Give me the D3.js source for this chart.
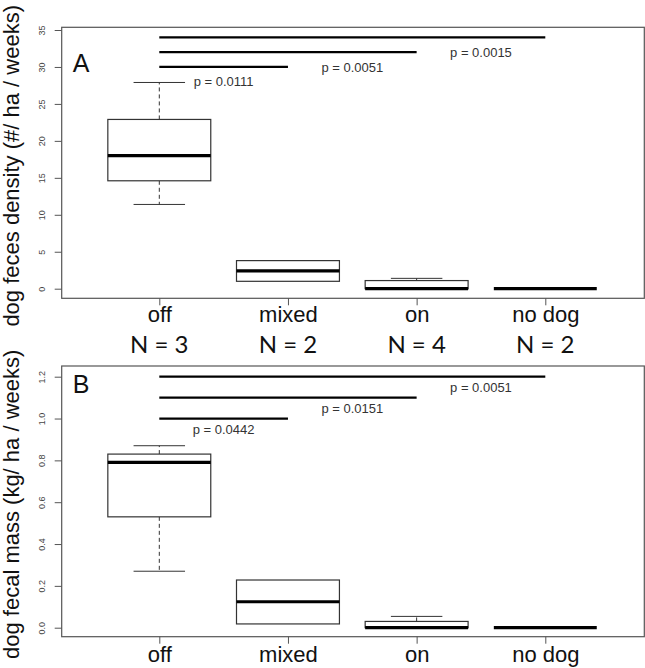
<!DOCTYPE html>
<html>
<head>
<meta charset="utf-8">
<script src="https://cdn.jsdelivr.net/npm/d3@7"></script>
<style>
  html, body { margin: 0; padding: 0; background: #fff; }
  svg { display: block; }
</style>
</head>
<body>
<svg id="chart" width="645" height="668"></svg>
<script>
// ---------- data ----------
const categories = ["off", "mixed", "on", "no dog"];
const sampleSizes = ["N = 3", "N = 2", "N = 4", "N = 2"];

// Panel A: dog feces density (#/ha/weeks)
const densMin = [11.4, 1.0, 0, 0];
const densQ1  = [14.6, 1.0, 0, 0];
const densMed = [18.0, 2.4, 0, 0];
const densQ3  = [22.9, 3.8, 1.1, 0];
const densMax = [27.9, 3.8, 1.4, 0];
const densTicks = [0, 5, 10, 15, 20, 25, 30, 35];

// Panel B: dog fecal mass (kg/ha/weeks)
const massMin = [0.27, 0.018, 0, 0];
const massQ1  = [0.53, 0.018, 0, 0];
const massMed = [0.79, 0.124, 0, 0];
const massQ3  = [0.83, 0.228, 0.03, 0];
const massMax = [0.87, 0.228, 0.054, 0];
const massTicks = [0, 0.2, 0.4, 0.6, 0.8, 1.0, 1.2];

// significance bars (from group index 1 to group index 2..4)
const sigFrom = [1, 1, 1];
const sigTo   = [2, 3, 4];
const sigLabelX = [1.5, 2.5, 3.5];
const densSigY = [30, 32, 34];
const densPY   = [28, 30, 32];
const densP    = ["p = 0.0111", "p = 0.0051", "p = 0.0015"];
const massSigY = [1.0, 1.1, 1.2];
const massPY   = [0.95, 1.05, 1.15];
const massP    = ["p = 0.0442", "p = 0.0151", "p = 0.0051"];

// ---------- drawing ----------
const svg = d3.select("#chart");
const frameLeft = 61.7, frameRight = 644.3;
const x = d3.scaleLinear().domain([1, 4]).range([159.3, 545.3]);
const unit = x(2) - x(1);

function panel(opt) {
  const g = svg.append("g");
  const y = d3.scaleLinear().domain(opt.domain).range(opt.range);

  // frame
  g.append("rect")
    .attr("x", frameLeft).attr("y", opt.top)
    .attr("width", frameRight - frameLeft).attr("height", opt.bottom - opt.top)
    .attr("fill", "none").attr("stroke", "#555").attr("stroke-width", 1.2);

  // y axis
  const yAxis = g.append("g")
    .attr("transform", `translate(${frameLeft},0)`)
    .call(d3.axisLeft(y).tickValues(opt.ticks).tickSize(7).tickSizeOuter(0).tickFormat(opt.fmt));
  yAxis.select(".domain").remove();
  yAxis.selectAll(".tick line").attr("stroke", "#555");
  yAxis.selectAll(".tick text")
    .attr("x", 0).attr("y", 0).attr("dy", "0.35em")
    .attr("text-anchor", "middle")
    .attr("transform", "translate(-20,0) rotate(-90)")
    .attr("font-family", "Liberation Sans, Arial, sans-serif")
    .attr("font-size", 9).attr("fill", "#444");

  // x axis
  const xAxis = g.append("g")
    .attr("transform", `translate(0,${opt.bottom})`)
    .call(d3.axisBottom(x).tickValues([1, 2, 3, 4]).tickSize(7).tickSizeOuter(0)
      .tickFormat((d, i) => categories[i]));
  xAxis.select(".domain").remove();
  xAxis.selectAll(".tick line").attr("stroke", "#555");
  xAxis.selectAll(".tick text")
    .attr("y", 0).attr("dy", 0)
    .attr("transform", `translate(0,${opt.xLabelBaseline - opt.bottom})`)
    .attr("font-family", "Liberation Sans, Arial, sans-serif")
    .attr("font-size", 22).attr("fill", "#111");

  // y title
  g.append("text")
    .attr("transform", `translate(19,${(opt.top + opt.bottom) / 2 + 3}) rotate(-90)`)
    .attr("text-anchor", "middle")
    .attr("font-family", "Liberation Sans, Arial, sans-serif")
    .attr("font-size", 22).attr("fill", "#111")
    .text(opt.title);

  // panel letter
  g.append("text")
    .attr("x", 81).attr("y", opt.letterBaseline)
    .attr("text-anchor", "middle")
    .attr("font-family", "Liberation Sans, Arial, sans-serif")
    .attr("font-size", 25).attr("fill", "#111")
    .text(opt.letter);

  // boxes
  const idx = d3.range(categories.length);
  const bx = g.append("g");
  idx.forEach(i => {
    const cx = x(i + 1);
    const hw = 0.4 * unit, cw = 0.2 * unit;
    // whiskers
    if (opt.max[i] > opt.q3[i]) {
      bx.append("line").attr("x1", cx).attr("x2", cx)
        .attr("y1", y(opt.q3[i])).attr("y2", y(opt.max[i]))
        .attr("stroke", "#333").attr("stroke-dasharray", "4,3");
      bx.append("line").attr("x1", cx - cw).attr("x2", cx + cw)
        .attr("y1", y(opt.max[i])).attr("y2", y(opt.max[i]))
        .attr("stroke", "#333");
    }
    if (opt.min[i] < opt.q1[i]) {
      bx.append("line").attr("x1", cx).attr("x2", cx)
        .attr("y1", y(opt.q1[i])).attr("y2", y(opt.min[i]))
        .attr("stroke", "#333").attr("stroke-dasharray", "4,3");
      bx.append("line").attr("x1", cx - cw).attr("x2", cx + cw)
        .attr("y1", y(opt.min[i])).attr("y2", y(opt.min[i]))
        .attr("stroke", "#333");
    }
    // box
    bx.append("rect")
      .attr("x", cx - hw).attr("width", 2 * hw)
      .attr("y", y(opt.q3[i])).attr("height", y(opt.q1[i]) - y(opt.q3[i]))
      .attr("fill", "#fff").attr("stroke", "#333").attr("stroke-width", 1.2);
    // median
    bx.append("line").attr("x1", cx - hw).attr("x2", cx + hw)
      .attr("y1", y(opt.med[i])).attr("y2", y(opt.med[i]))
      .attr("stroke", "#000").attr("stroke-width", 3.2);
  });

  // significance bars
  sigFrom.forEach((f, k) => {
    g.append("line")
      .attr("x1", x(f)).attr("x2", x(sigTo[k]))
      .attr("y1", y(opt.sigY[k])).attr("y2", y(opt.sigY[k]))
      .attr("stroke", "#000").attr("stroke-width", 2.2);
    g.append("text")
      .attr("x", x(sigLabelX[k])).attr("y", y(opt.pY[k]))
      .attr("dy", "0.35em").attr("text-anchor", "middle")
      .attr("font-family", "Liberation Sans, Arial, sans-serif")
      .attr("font-size", 13).attr("fill", "#333")
      .text(opt.pLabels[k]);
  });
  return g;
}

panel({
  domain: [0, 35], range: [288.7, 30], top: 27.3, bottom: 298.3,
  ticks: densTicks, fmt: d3.format("d"),
  min: densMin, q1: densQ1, med: densMed, q3: densQ3, max: densMax,
  sigY: densSigY, pY: densPY, pLabels: densP,
  title: "dog feces density (#/ ha / weeks)", letter: "A", letterBaseline: 71.7,
  xLabelBaseline: 321.7
});

panel({
  domain: [0, 1.2], range: [627.7, 376.7], top: 366, bottom: 636.7,
  ticks: massTicks, fmt: d3.format(".1f"),
  min: massMin, q1: massQ1, med: massMed, q3: massQ3, max: massMax,
  sigY: massSigY, pY: massPY, pLabels: massP,
  title: "dog fecal mass (kg/ ha / weeks)", letter: "B", letterBaseline: 393.3,
  xLabelBaseline: 661.7
});

// sample sizes under panel A
svg.append("g").selectAll("text")
  .data(sampleSizes)
  .join("text")
  .attr("x", (d, i) => x(i + 1))
  .attr("y", 353.3)
  .attr("text-anchor", "middle")
  .attr("font-family", "Lato, 'Open Sans', sans-serif")
  .attr("font-size", 24).attr("fill", "#111")
  .text(d => d);
</script>
</body>
</html>
